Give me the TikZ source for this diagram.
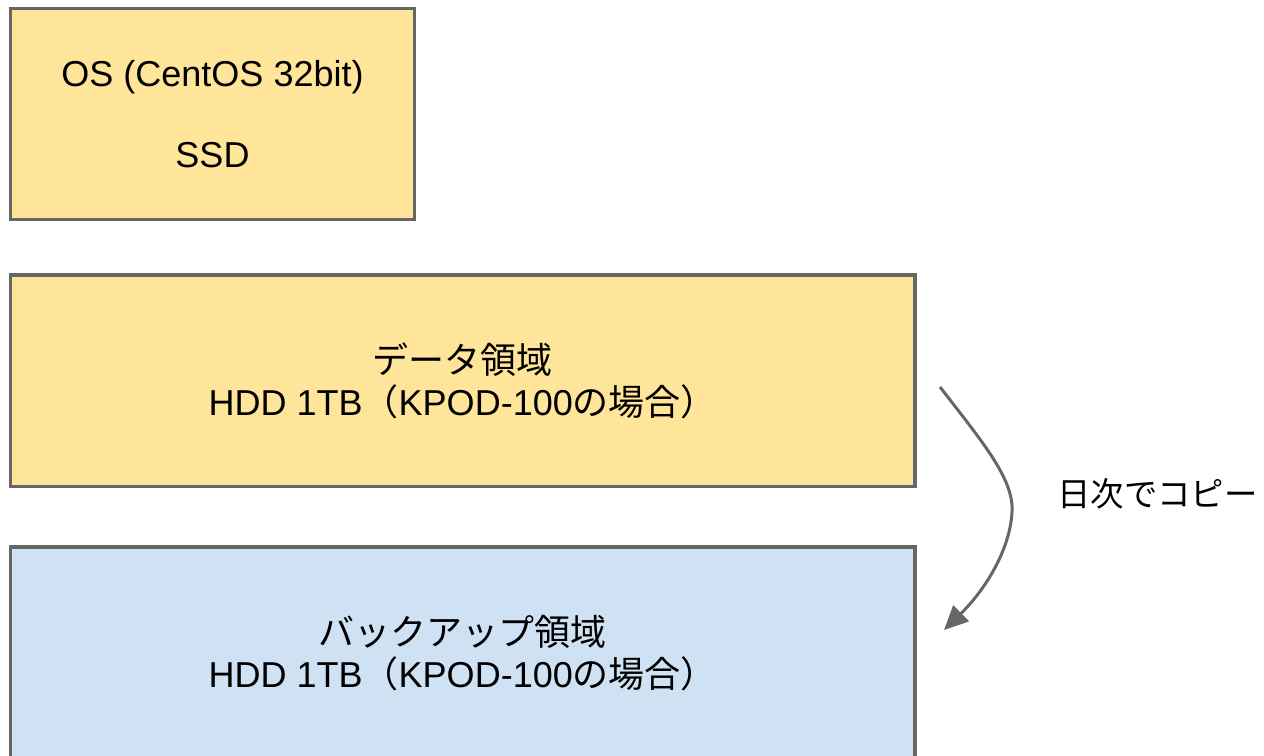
\documentclass[tikz,border=0pt]{standalone}
\usepackage{fontspec}
\setmainfont{Liberation Sans}
\newfontfamily\cjk{Noto Sans CJK JP}
\usetikzlibrary{arrows.meta}
\definecolor{boxyellow}{HTML}{FFE599}
\definecolor{boxblue}{HTML}{CFE2F3}
\definecolor{edgegray}{HTML}{666666}
\begin{document}
\begin{tikzpicture}[x=0.02cm,y=0.02cm,
  disk/.style={draw=edgegray, line width=2pt, inner sep=0pt, align=center,
    font=\fontsize{20.5}{23.8}\selectfont},
  flow/.style={draw=edgegray, line width=1.7pt,
    -{Triangle[length=0.48cm,width=0.44cm]}},
  lbl/.style={font=\fontsize{19}{22}\selectfont, inner sep=0pt}]
\useasboundingbox (0,0) rectangle (1264,-755);
\node[disk, fill=boxyellow, minimum width=8.08cm, minimum height=4.22cm]
  (ssd) at (212.5,-114) {OS (CentOS 32bit)\\[22.7pt]SSD};
\node[disk, fill=boxyellow, minimum width=18.09cm, minimum height=4.23cm]
  (data) at (462.75,-380.75) {{\cjk データ領域}\\HDD 1TB{\cjk （}KPOD-100{\cjk の場合）}};
\node[disk, fill=boxblue, minimum width=18.09cm, minimum height=4.23cm]
  (backup) at (462.75,-652.75) {{\cjk バックアップ領域}\\HDD 1TB{\cjk （}KPOD-100{\cjk の場合）}};
\coordinate (cs) at (940,-387);
\coordinate (ce) at (944,-630);
\draw[flow] (cs) .. controls (985,-445) and (1014,-480) .. (1012,-512)
  .. controls (1010,-550) and (985,-590) .. (ce);
\node[lbl] (copy) at (1157.5,-494) {\cjk 日次でコピー};
\end{tikzpicture}
\end{document}
